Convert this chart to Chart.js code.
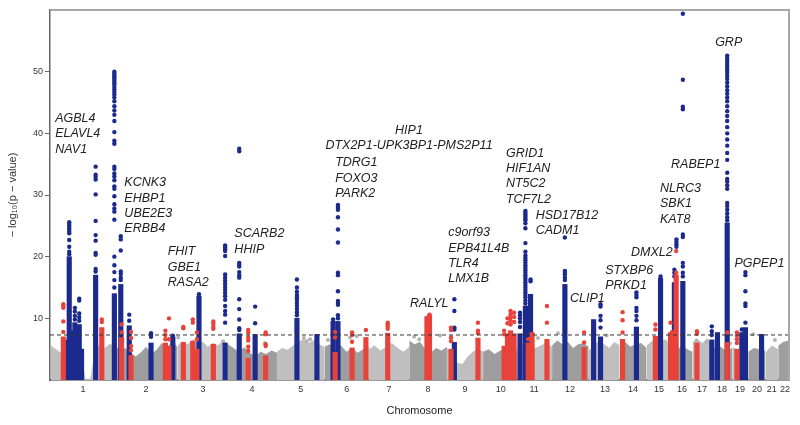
<!DOCTYPE html>
<html><head><meta charset="utf-8">
<script src="https://cdn.jsdelivr.net/npm/chart.js@4/dist/chart.umd.min.js"></script>
<style>html,body{margin:0;padding:0;background:#fff}</style>
</head><body>
<canvas id="c" width="800" height="425"></canvas>
<script>
// ---- data (x in cumulative genome position, Mb-like units) ----
const chromLabels = ['1','2','3','4','5','6','7','8','9','10','11','12','13','14','15','16','17','18','19','20','21','22'];
const chromCenters = [129,374,597,788,978,1157,1322,1474,1618,1758,1888,2028,2164,2274,2375,2465,2543,2621,2691,2757,2815,2866];
const chromBounds = [4,253,497,694,885,1070,1243,1401,1548,1689,1823,1958,2101,2221,2326,2423,2506,2583,2661,2723,2790,2840,2882];
const xMax = 2882;
const yMax = 60;
const yTicks = [10,20,30,40,50];
const sigLine = 7.3;

// background (non-significant SNP) skyline heights per chromosome
const bgHeights = [
  [5.6,5.0,4.4,5.4,4.8,5.7,4.6,0.2,0.2,4.9,5.8,5.2,5.9,5.3],
  [5.6,4.8,5.2,4.4,3.8,4.5,5.4,4.2,4.9,6.0,5.2,6.2,5.4],
  [5.5,6.3,5.8,6.6,5.9,6.2,5.4,6.0,5.6,6.4,5.8],
  [5.8,5.2,4.6,5.3,4.4,3.9,4.6,4.2,4.8,4.4],
  [4.6,5.2,4.9,5.5,6.2,6.6,6.0,6.5,5.8,5.4],
  [5.4,5.8,5.0,5.6,4.6,5.2,4.4,5.0,5.5],
  [5.0,5.6,4.8,5.4,6.0,5.2,4.6,5.4],
  [6.4,5.8,6.2,5.0,4.4,5.2,4.8,5.4],
  [5.2,4.4,2.8,2.6,3.8,4.6,5.0,4.6],
  [4.6,5.0,4.2,4.8,5.0,4.4,4.8],
  [5.4,5.8,6.2,5.2,5.6,6.0,5.4],
  [5.6,6.4,5.8,6.2,5.2,5.8,6.0,5.4],
  [4.8,5.6,6.4,5.8,5.2,6.2,5.6],
  [5.8,6.2,5.4,5.8,6.0,5.2],
  [5.6,6.4,6.0,6.6,5.8],
  [5.2,4.8,5.6,5.0,4.6],
  [6.2,6.6,6.0,6.8,5.8],
  [5.0,5.6,4.8,5.2],
  [5.4,4.8,5.2,4.6],
  [4.6,5.2,5.0,4.8],
  [4.4,5.6,5.0],
  [5.6,6.2,6.4]
];
// scattered non-significant SNPs above the skyline
const grayDotX = [475,500,675,838,990,1001,1014,1084,1170,1196,1420,1440,1521,1903,1981,2171,2522,2561,2652,2742,2827];
const grayDotY = [7.1,6.9,6.3,6.0,6.8,6.3,6.6,6.5,6.9,7.1,7.0,6.6,7.2,6.8,7.6,7.2,6.4,6.1,5.9,7.4,6.5];

// blue loci: position, top of dense column, sparse SNPs above
const blueX   = [68,75,97,86,114,123,178,251,276,309,394,479,581,683,738,800,963,1041,1104,1123,1577,1833,1854,1874,2008,2120,2147,2287,2381,2435,2443,2468,2581,2603,2641,2698,2712,2775];
const blueTop = [6.5,20.0,9.3,8.0,9.0,5.0,17.0,14.0,15.5,8.8,6.0,7.0,13.6,6.0,7.5,7.4,10.0,7.4,9.5,9.5,6.1,7.5,12.0,13.9,15.5,9.8,7.0,8.6,16.5,15.8,0,16.0,6.5,7.7,25.5,7.7,8.5,7.4];
const blueDots = [
  [],
  [25.6,25.3,25.0,24.7,24.4,24.1,23.8,22.7,21.6,20.8,20.4],
  [11.7,11.1,10.4,9.8],
  [],
  [13.2,12.9,10.8,10.2,9.6],
  [],
  [34.6,33.3,32.9,32.5,30.1,25.8,23.5,22.6,20.6,20.3,18.0,17.6],
  [50.0,49.7,49.4,49.1,48.8,48.5,48.2,47.9,47.5,47.1,46.7,46.3,45.8,45.2,44.4,43.7,43.0,42.0,40.2,38.8,38.3,34.6,34.2,33.5,33.0,32.4,31.4,31.0,29.8,28.5,27.8,27.3,26.0,20.0,18.6,17.5,16.2,15.0],
  [23.3,22.8,21.0,17.6,17.2,16.6,16.2],
  [10.6,9.6],
  [7.6,7.3,7.0],
  [7.2],
  [13.9],
  [21.8,21.5,21.2,20.9,20.1,17.1,16.6,16.1,15.6,15.1,14.6,14.1,13.6,13.0,12.0,11.2,10.6,9.3],
  [37.5,37.1,19.0,18.7,18.4,17.5,17.0,16.6,13.1,11.5,9.8,8.4,8.1],
  [11.9,9.2],
  [16.3,15.0,14.3,13.8,13.4,13.0,12.5,12.0,11.5,11.0,10.5],
  [],
  [9.8],
  [28.4,28.2,27.9,27.6,26.4,24.4,22.3,17.4,17.0,14.4,12.8,12.5,12.2,10.5,10.0],
  [13.1,11.2,8.5,8.2],
  [10.9,10.5,10.0,9.4,8.6],
  [27.4,27.1,26.8,26.5,26.2,25.9,25.4,24.6,22.2,20.8,20.2,19.8,19.4,19.0,18.6,18.2,17.8,17.4,17.0,16.6,16.2,15.8,15.4,15.0,14.6,14.2,13.8,13.4,12.9,12.4],
  [16.3,16.0],
  [23.1,17.7,17.4,17.1,16.6,16.2],
  [],
  [12.3,11.9,10.4,9.7,8.5],
  [14.2,13.8,13.4,11.7,11.2,10.4,9.7],
  [16.8],
  [17.9,17.4,16.8],
  [22.8,22.4,22.0,21.6],
  [59.4,48.7,44.3,43.9,23.6,23.2,19.0,18.4,17.4,16.8],
  [8.7,7.9,7.3],
  [],
  [52.6,52.2,51.8,51.4,51.0,50.6,50.2,49.8,49.3,48.8,48.2,47.6,47.0,46.4,45.8,45.2,44.4,43.6,42.8,42.0,41.0,40.0,39.0,38.0,36.8,35.7,33.6,32.6,32.2,31.6,31.0,28.7,28.2,27.6,27.0,26.4,25.9],
  [8.2],
  [17.5,17.0,14.4,12.4,12.0,9.3],
  []
];

// red loci
const redX   = [52,202,279,316,450,464,520,557,573,637,773,841,1112,1178,1232,1317,1470,1480,1564,1669,1771,1784,1796,1810,1865,1880,1938,2083,2233,2361,2420,2428,2442,2523,2641,2679];
const redTop = [7.0,8.5,6.9,4.0,6.0,5.5,6.1,6.3,5.0,5.8,3.5,3.9,4.5,5.2,6.9,7.6,10.3,10.6,5.0,6.8,5.5,7.5,8.0,7.5,6.0,7.7,6.6,5.3,6.6,7.1,7.7,8.0,17.0,6.0,6.1,5.0];
const redDots = [
  [12.3,12.0,11.7,9.5,7.8],
  [9.8,9.4],
  [9.0,7.7],
  [7.8,6.8,5.5,4.8],
  [8.0,7.3,6.6],
  [10.0,6.6],
  [8.6,8.4],
  [9.8,9.3],
  [7.7,6.6],
  [9.5,9.1,8.6,8.3],
  [8.1,7.7,6.9,6.4,5.4,4.7],
  [7.7,7.4,5.8,5.5],
  [7.8,6.9],
  [7.7,7.3,6.2],
  [8.1],
  [9.3,9.0,8.7,8.3],
  [],
  [10.6],
  [8.5,8.1,6.9,6.3],
  [9.3,8.0,7.6],
  [8.0,7.4],
  [10.0,9.2],
  [11.2,10.6,10.2,9.6,9.0],
  [10.9,10.2,9.4],
  [6.6],
  [],
  [12.0,9.3],
  [7.7,6.1],
  [11.0,9.7,7.7],
  [9.0,8.2],
  [9.3],
  [],
  [20.9,17.4],
  [7.9,7.5],
  [7.7],
  [7.7,7.2,6.6,6.0]
];

// gene annotations (anchor in data coordinates)
const geneText = [
  ['AGBL4','ELAVL4','NAV1'],
  ['KCNK3','EHBP1','UBE2E3','ERBB4'],
  ['FHIT','GBE1','RASA2'],
  ['SCARB2','HHIP'],
  ['HIP1'],
  ['DTX2P1-UPK3BP1-PMS2P11'],
  ['TDRG1','FOXO3','PARK2'],
  ['c9orf93','EPB41L4B','TLR4','LMX1B'],
  ['RALYL'],
  ['GRID1','HIF1AN','NT5C2','TCF7L2'],
  ['HSD17B12','CADM1'],
  ['CLIP1'],
  ['STXBP6','PRKD1'],
  ['DMXL2'],
  ['NLRC3','SBK1','KAT8'],
  ['RABEP1'],
  ['GRP'],
  ['PGPEP1']
];
const geneAnchorX = [20,290,459,719,1400,1400,1112,1553,1404,1778,1894,2028,2165,2266,2379,2422,2594,2669];
const geneAnchorY = [42.4,32.0,20.8,23.7,40.5,38.0,35.2,23.9,12.4,36.8,26.7,13.2,17.8,20.6,31.1,35.0,54.7,18.9];
const geneAlign = ['left','left','left','left','center','center','left','left','left','left','left','left','left','left','left','left','left','left'];

// ---- build datasets ----
const BLUE = '#1b2a8c', RED = '#e8433a', GRAY_L = '#bfbfbf', GRAY_D = '#9e9e9e';
const datasets = [];
bgHeights.forEach((hs, c) => {
  const s = chromBounds[c], e = chromBounds[c+1];
  datasets.push({
    type: 'line', order: 6,
    data: hs.map((h, j) => ({x: s + (e - s) * j / (hs.length - 1), y: h})),
    borderWidth: 0, pointRadius: 0, tension: 0, fill: 'origin',
    backgroundColor: c % 2 === 0 ? GRAY_L : GRAY_D, borderColor: 'rgba(0,0,0,0)'
  });
});
datasets.push({type: 'scatter', order: 5, pointRadius: 2, borderWidth: 0, backgroundColor: '#b4b4b4',
  data: grayDotX.map((x, i) => ({x, y: grayDotY[i]}))});
const barCommon = {type: 'bar', barThickness: 4.5, grouped: false, borderWidth: 0, borderSkipped: false};
datasets.push(Object.assign({}, barCommon, {order: 4, backgroundColor: BLUE,
  data: blueX.map((x, i) => ({x, y: [0, blueTop[i]]})).filter(d => d.y[1] > 0)}));
datasets.push({type: 'scatter', order: 3, pointRadius: 2.2, borderWidth: 0, backgroundColor: BLUE,
  data: blueX.flatMap((x, i) => blueDots[i].map(v => ({x, y: v})))});
datasets.push(Object.assign({}, barCommon, {order: 2, backgroundColor: RED,
  data: redX.map((x, i) => ({x, y: [0, redTop[i]]}))}));
datasets.push({type: 'scatter', order: 1, pointRadius: 2.2, borderWidth: 0, backgroundColor: RED,
  data: redX.flatMap((x, i) => redDots[i].map(v => ({x, y: v})))});
datasets.push({type: 'line', order: 0, data: [{x: 0, y: sigLine}, {x: xMax, y: sigLine}],
  borderColor: '#333', borderWidth: 1, borderDash: [4, 3], pointRadius: 0, fill: false});

const framePlugin = {
  id: 'frame',
  afterDraw(chart) {
    const {ctx, chartArea: a} = chart;
    ctx.save();
    ctx.strokeStyle = '#a8a8a8'; ctx.lineWidth = 2;
    ctx.beginPath(); ctx.moveTo(a.left, a.top); ctx.lineTo(a.right, a.top); ctx.lineTo(a.right, a.bottom); ctx.stroke();
    ctx.restore();
  }
};
const labelPlugin = {
  id: 'genes',
  afterDatasetsDraw(chart) {
    const {ctx, scales: {x, y}} = chart;
    ctx.save();
    ctx.font = 'italic 12.5px "Liberation Sans", Arial, sans-serif';
    ctx.fillStyle = '#222'; ctx.textBaseline = 'middle';
    geneText.forEach((lines, i) => {
      ctx.textAlign = geneAlign[i];
      const px = x.getPixelForValue(geneAnchorX[i]);
      const py = y.getPixelForValue(geneAnchorY[i]);
      lines.forEach((t, k) => ctx.fillText(t, px, py + k * 15.4));
    });
    ctx.restore();
  }
};

new Chart(document.getElementById('c'), {
  type: 'scatter',
  data: {datasets},
  plugins: [framePlugin, labelPlugin],
  options: {
    responsive: false, animation: false, devicePixelRatio: 1,
    layout: {padding: {top: 10, right: 11, left: 0, bottom: 0}},
    plugins: {legend: {display: false}, tooltip: {enabled: false}},
    scales: {
      x: {
        type: 'linear', min: 0, max: xMax, offset: false,
        afterFit: s => { s.height = 45; },
        afterBuildTicks: s => { s.ticks = chromCenters.map(v => ({value: v})); },
        ticks: {autoSkip: false, maxRotation: 0, padding: 4, color: '#333',
          font: {family: '"Liberation Sans", Arial, sans-serif', size: 9},
          callback: (v, i) => chromLabels[i]},
        grid: {display: false, drawTicks: false},
        border: {display: true, color: '#333', width: 1.5},
        title: {display: true, text: 'Chromosome', color: '#222', padding: {top: 0, bottom: 7},
          font: {family: '"Liberation Sans", Arial, sans-serif', size: 11}}
      },
      y: {
        min: 0, max: yMax,
        afterFit: s => { s.width = 50; },
        afterBuildTicks: s => { s.ticks = yTicks.map(v => ({value: v})); },
        ticks: {padding: 2, color: '#333', font: {family: '"Liberation Sans", Arial, sans-serif', size: 9}},
        grid: {drawOnChartArea: false, drawTicks: true, tickLength: 5, color: '#666'},
        border: {display: true, color: '#666', width: 1.5},
        title: {display: true, text: '\u2212 log\u2081\u2080(p \u2212 value)', color: '#333', padding: {top: 6, bottom: 0},
          font: {family: '"Liberation Sans", Arial, sans-serif', size: 11}}
      }
    }
  }
});
</script>
</body></html>
